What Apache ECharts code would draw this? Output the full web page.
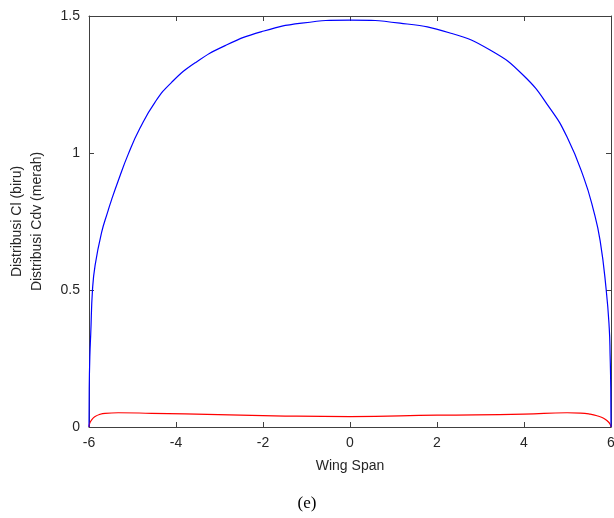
<!DOCTYPE html>
<html>
<head>
<meta charset="utf-8">
<script src="https://cdn.jsdelivr.net/npm/echarts@6/dist/echarts.min.js"></script>
<style>
  html, body { margin: 0; padding: 0; background: #fff; }
  #chart { width: 614px; height: 518px; }
</style>
</head>
<body>
<div id="chart"></div>
<script>
  // values
  var clSpan = [-6, -5.995, -5.98, -5.96, -5.92, -5.86, -5.71, -5.57, -5.48, -5.33, -5.10, -4.83, -4.48, -4.10, -3.56, -2.87, -2.03, -1.11, 0,
    1.15, 2.30, 3.22, 3.99, 4.61, 4.99, 5.37, 5.60, 5.75, 5.89, 5.96, 5.98, 5.995, 6]
  var clValues = [0, 0.14, 0.26, 0.34, 0.50, 0.59, 0.71, 0.785, 0.83, 0.898, 0.995, 1.09, 1.186, 1.258, 1.329, 1.392, 1.443, 1.474, 1.485,
    1.474, 1.438, 1.376, 1.283, 1.160, 1.058, 0.912, 0.79, 0.68, 0.50, 0.36, 0.26, 0.14, 0]

  var cdvSpan = [-6, -5.98, -5.93, -5.86, -5.75, -5.63, -5.33, -4.56, -3.03, -1.49, 0, 2.0, 4.0, 4.99, 5.3, 5.52, 5.7, 5.83, 5.93, 5.98, 6]
  var cdvValues = [0, 0.015, 0.028, 0.038, 0.046, 0.050, 0.052, 0.050, 0.045, 0.040, 0.038, 0.043, 0.047, 0.052, 0.051, 0.047, 0.040, 0.032, 0.020, 0.010, 0]

  var axisColor = '#404040'
  var labelColor = '#262626'

  function pairs(xs, ys) {
    return xs.map(function (x, i) { return [x, ys[i]] })
  }

  var chart = echarts.init(document.getElementById('chart'))
  chart.setOption({
    animation: false,
    title: {
      text: '(e)',
      left: 'center',
      top: 495,
      padding: 0,
      textStyle: { fontFamily: 'Liberation Serif', fontSize: 17, fontWeight: 'normal', color: '#000' }
    },
    grid: { left: 89, right: 3, top: 16, bottom: 91, containLabel: false, outerBoundsMode: 'none' },
    xAxis: [{
      type: 'value', min: -6, max: 6, interval: 2,
      name: 'Wing Span', nameLocation: 'middle', nameGap: 32,
      nameTextStyle: { fontFamily: 'Liberation Sans', fontSize: 14, color: labelColor },
      axisLine: { show: true, onZero: false, lineStyle: { color: axisColor } },
      axisTick: { show: true, inside: true, length: 5, lineStyle: { color: axisColor } },
      axisLabel: { fontFamily: 'Liberation Sans', fontSize: 14, color: labelColor, margin: 9 },
      splitLine: { show: false }
    }, {
      type: 'value', min: -6, max: 6, interval: 2, position: 'top',
      axisLine: { show: true, onZero: false, lineStyle: { color: axisColor } },
      axisTick: { show: true, inside: true, length: 5, lineStyle: { color: axisColor } },
      axisLabel: { show: false },
      splitLine: { show: false }
    }],
    yAxis: [{
      type: 'value', min: 0, max: 1.5, interval: 0.5,
      name: 'Distribusi Cl (biru)\nDistribusi Cdv (merah)', nameLocation: 'middle', nameGap: 42,
      nameTextStyle: { fontFamily: 'Liberation Sans', fontSize: 14, color: labelColor, lineHeight: 20 },
      axisLine: { show: true, onZero: false, lineStyle: { color: axisColor } },
      axisTick: { show: true, inside: true, length: 5, lineStyle: { color: axisColor } },
      axisLabel: { fontFamily: 'Liberation Sans', fontSize: 14, color: labelColor, margin: 9 },
      splitLine: { show: false }
    }, {
      type: 'value', min: 0, max: 1.5, interval: 0.5, position: 'right',
      axisLine: { show: true, onZero: false, lineStyle: { color: axisColor } },
      axisTick: { show: true, inside: true, length: 5, lineStyle: { color: axisColor } },
      axisLabel: { show: false },
      splitLine: { show: false }
    }],
    series: [{
      name: 'Cl',
      type: 'line',
      data: pairs(clSpan, clValues),
      showSymbol: false,
      smooth: 0.5,
      lineStyle: { color: '#0000ff', width: 1.2 },
      z: 3
    }, {
      name: 'Cdv',
      type: 'line',
      data: pairs(cdvSpan, cdvValues),
      showSymbol: false,
      smooth: 0.5,
      lineStyle: { color: '#ff0000', width: 1.2 },
      z: 2
    }]
  })
</script>
</body>
</html>
